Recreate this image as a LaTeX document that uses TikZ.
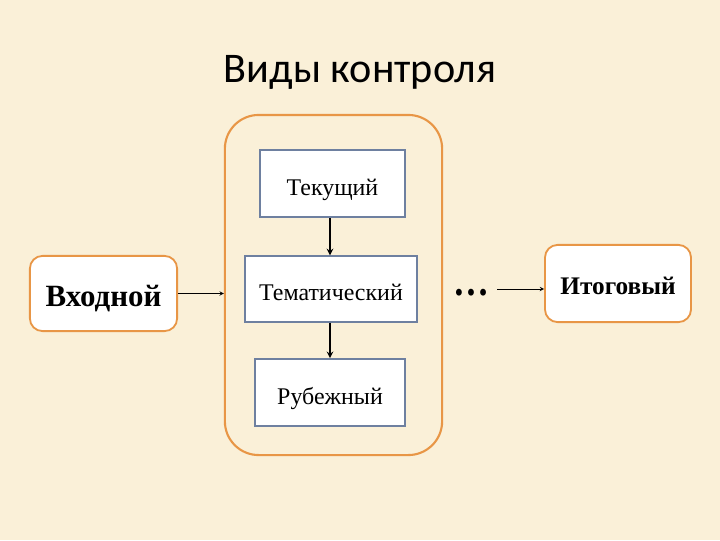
\documentclass[tikz,border=0pt]{standalone}
\usepackage{fontspec}
\setmainfont{Liberation Serif}
\newfontfamily\titlefont{Carlito}
\usepackage{tikz}
\usepackage{xcolor}
\definecolor{paper}{RGB}{250,240,216}
\definecolor{frameorange}{RGB}{232,150,70}
\definecolor{boxblue}{RGB}{110,128,160}

\begin{document}
\begin{tikzpicture}[x=0.025cm,y=-0.025cm,>=stealth]
    \fill[paper] (0,0) rectangle (720,540);
    \useasboundingbox (0,0) rectangle (720,540);
    \node[font=\titlefont\fontsize{30}{36}\selectfont] (T) at (360,72){Виды контроля};
    \node[draw=frameorange,line width=1.5pt,rounded corners=24pt,minimum width=5.43cm,minimum height=8.5cm] (B) at (333.5,285){};
    \node[draw=frameorange,line width=1.3pt,fill=white,rounded corners=9pt,minimum width=3.68cm,minimum height=1.88cm,text height=23pt,text depth=4pt,font=\bfseries\fontsize{22}{26}\selectfont] (A1) at (103.5,293.5){Входной};
    \node[draw=boxblue,line width=1pt,fill=white,minimum width=3.63cm,minimum height=1.68cm,text height=20pt,text depth=3.5pt,font=\fontsize{17}{20}\selectfont] (A2) at (332.5,183.5){Текущий};
    \node[draw=boxblue,line width=1pt,fill=white,minimum width=4.3cm,minimum height=1.65cm,text height=20pt,text depth=3.5pt,font=\fontsize{17}{20}\selectfont] (A3) at (331,289){Тематический};
    \node[draw=boxblue,line width=1pt,fill=white,minimum width=3.75cm,minimum height=1.68cm,text height=20pt,text depth=3.5pt,font=\fontsize{17}{20}\selectfont] (A4) at (330,392.5){Рубежный};
    \node[draw=frameorange,line width=1.3pt,fill=white,rounded corners=9pt,minimum width=3.65cm,minimum height=1.93cm,text height=15pt,text depth=0pt,font=\bfseries\fontsize{18}{22}\selectfont] (A5) at (618,283.5){Итоговый};
    \node[font=\bfseries\fontsize{30}{32}\selectfont,inner sep=1pt,anchor=base,xscale=0.85] (D) at (471,295){…};
    \coordinate (C1) at (497,289);
    \draw[->] (A1)--(B.west|-A1);
    \draw[->,line width=1.1pt] (A4|-A2.south)--(A4|-A3.north);
    \draw[->,line width=1.1pt] (A4|-A3.south)--(A4.north);
    \draw[->] (C1)--(A5.west|-C1);
\end{tikzpicture}
\end{document}
